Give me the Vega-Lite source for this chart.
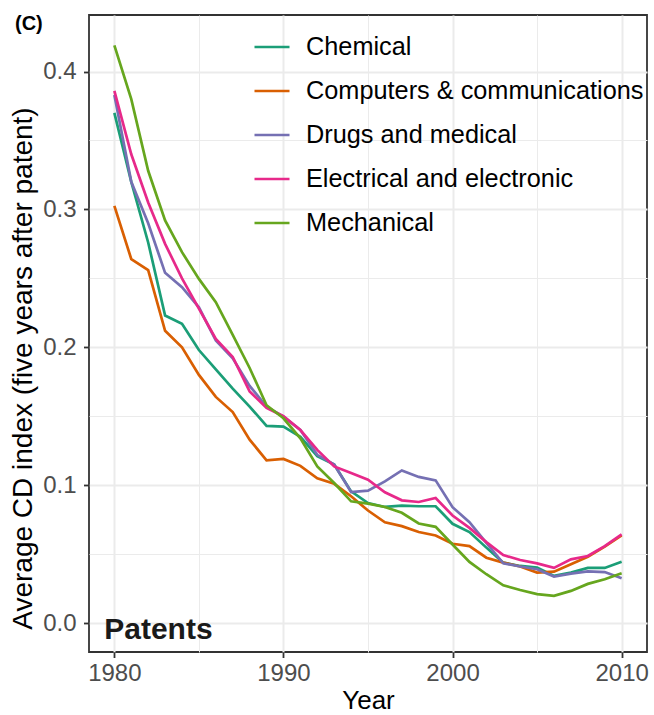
{
  "$schema": "https://vega.github.io/schema/vega-lite/v6.json",
  "width": 558,
  "height": 637,
  "autosize": "none",
  "padding": {"left": 89, "top": 15, "right": 7, "bottom": 63},
  "background": "white",
  "config": {
    "view": {"stroke": "#333333", "strokeWidth": 1.8},
    "font": "Liberation Sans",
    "axis": {
      "domain": false,
      "gridColor": "#ebebeb",
      "tickColor": "#333333",
      "tickWidth": 1.8,
      "labelColor": "#4d4d4d",
      "labelFont": "Liberation Sans",
      "labelFontSize": 24,
      "titleFont": "Liberation Sans",
      "titleFontSize": 26,
      "titleFontWeight": "normal",
      "titleColor": "black"
    }
  },
  "title": {
    "text": "(C)",
    "anchor": "start",
    "frame": "group",
    "font": "Liberation Sans",
    "fontSize": 20,
    "fontWeight": "bold",
    "color": "black",
    "baseline": "alphabetic",
    "offset": 0,
    "dx": -74,
    "dy": 35
  },
  "layer": [
    {
      "data": {"values": [{"label": "Patents"}]},
      "mark": {"type": "text", "align": "left", "baseline": "alphabetic", "fontSize": 30, "fontWeight": "bold", "font": "Liberation Sans", "color": "#1a1a1a"},
      "encoding": {
        "text": {"field": "label"},
        "x": {"datum": 1979.4, "type": "quantitative", "scale": {"domain": [1978.5, 2011.5], "nice": false, "zero": false},
          "axis": {"orient": "top", "values": [1985, 1995, 2005], "grid": true, "gridWidth": 1, "labels": false, "ticks": false, "title": null}},
        "y": {"datum": -0.0116, "type": "quantitative", "scale": {"domain": [-0.021, 0.441], "nice": false, "zero": false},
          "axis": {"orient": "right", "values": [0.05, 0.15, 0.25, 0.35], "grid": true, "gridWidth": 1, "labels": false, "ticks": false, "title": null}}
      }
    },
    {
      "data": {"values": [
        {"year":1980,"field":"Chemical","cd":0.370},{"year":1981,"field":"Chemical","cd":0.320},{"year":1982,"field":"Chemical","cd":0.276},{"year":1983,"field":"Chemical","cd":0.223},{"year":1984,"field":"Chemical","cd":0.217},{"year":1985,"field":"Chemical","cd":0.198},{"year":1986,"field":"Chemical","cd":0.184},{"year":1987,"field":"Chemical","cd":0.170},{"year":1988,"field":"Chemical","cd":0.157},{"year":1989,"field":"Chemical","cd":0.143},{"year":1990,"field":"Chemical","cd":0.1425},{"year":1991,"field":"Chemical","cd":0.135},{"year":1992,"field":"Chemical","cd":0.121},{"year":1993,"field":"Chemical","cd":0.115},{"year":1994,"field":"Chemical","cd":0.0955},{"year":1995,"field":"Chemical","cd":0.087},{"year":1996,"field":"Chemical","cd":0.0842},{"year":1997,"field":"Chemical","cd":0.0852},{"year":1998,"field":"Chemical","cd":0.0847},{"year":1999,"field":"Chemical","cd":0.0847},{"year":2000,"field":"Chemical","cd":0.072},{"year":2001,"field":"Chemical","cd":0.066},{"year":2002,"field":"Chemical","cd":0.0547},{"year":2003,"field":"Chemical","cd":0.0438},{"year":2004,"field":"Chemical","cd":0.0414},{"year":2005,"field":"Chemical","cd":0.0402},{"year":2006,"field":"Chemical","cd":0.0342},{"year":2007,"field":"Chemical","cd":0.0366},{"year":2008,"field":"Chemical","cd":0.040},{"year":2009,"field":"Chemical","cd":0.040},{"year":2010,"field":"Chemical","cd":0.0445},
        {"year":1980,"field":"Computers & communications","cd":0.3025},{"year":1981,"field":"Computers & communications","cd":0.264},{"year":1982,"field":"Computers & communications","cd":0.256},{"year":1983,"field":"Computers & communications","cd":0.212},{"year":1984,"field":"Computers & communications","cd":0.200},{"year":1985,"field":"Computers & communications","cd":0.180},{"year":1986,"field":"Computers & communications","cd":0.164},{"year":1987,"field":"Computers & communications","cd":0.153},{"year":1988,"field":"Computers & communications","cd":0.133},{"year":1989,"field":"Computers & communications","cd":0.118},{"year":1990,"field":"Computers & communications","cd":0.119},{"year":1991,"field":"Computers & communications","cd":0.114},{"year":1992,"field":"Computers & communications","cd":0.105},{"year":1993,"field":"Computers & communications","cd":0.101},{"year":1994,"field":"Computers & communications","cd":0.092},{"year":1995,"field":"Computers & communications","cd":0.0816},{"year":1996,"field":"Computers & communications","cd":0.0731},{"year":1997,"field":"Computers & communications","cd":0.0703},{"year":1998,"field":"Computers & communications","cd":0.066},{"year":1999,"field":"Computers & communications","cd":0.0635},{"year":2000,"field":"Computers & communications","cd":0.0575},{"year":2001,"field":"Computers & communications","cd":0.0558},{"year":2002,"field":"Computers & communications","cd":0.0474},{"year":2003,"field":"Computers & communications","cd":0.0438},{"year":2004,"field":"Computers & communications","cd":0.041},{"year":2005,"field":"Computers & communications","cd":0.0366},{"year":2006,"field":"Computers & communications","cd":0.0373},{"year":2007,"field":"Computers & communications","cd":0.0426},{"year":2008,"field":"Computers & communications","cd":0.0481},{"year":2009,"field":"Computers & communications","cd":0.0554},{"year":2010,"field":"Computers & communications","cd":0.0635},
        {"year":1980,"field":"Drugs and medical","cd":0.383},{"year":1981,"field":"Drugs and medical","cd":0.320},{"year":1982,"field":"Drugs and medical","cd":0.290},{"year":1983,"field":"Drugs and medical","cd":0.254},{"year":1984,"field":"Drugs and medical","cd":0.2436},{"year":1985,"field":"Drugs and medical","cd":0.229},{"year":1986,"field":"Drugs and medical","cd":0.205},{"year":1987,"field":"Drugs and medical","cd":0.192},{"year":1988,"field":"Drugs and medical","cd":0.172},{"year":1989,"field":"Drugs and medical","cd":0.157},{"year":1990,"field":"Drugs and medical","cd":0.1497},{"year":1991,"field":"Drugs and medical","cd":0.140},{"year":1992,"field":"Drugs and medical","cd":0.122},{"year":1993,"field":"Drugs and medical","cd":0.115},{"year":1994,"field":"Drugs and medical","cd":0.095},{"year":1995,"field":"Drugs and medical","cd":0.096},{"year":1996,"field":"Drugs and medical","cd":0.1028},{"year":1997,"field":"Drugs and medical","cd":0.1107},{"year":1998,"field":"Drugs and medical","cd":0.106},{"year":1999,"field":"Drugs and medical","cd":0.1035},{"year":2000,"field":"Drugs and medical","cd":0.084},{"year":2001,"field":"Drugs and medical","cd":0.0731},{"year":2002,"field":"Drugs and medical","cd":0.0582},{"year":2003,"field":"Drugs and medical","cd":0.0433},{"year":2004,"field":"Drugs and medical","cd":0.041},{"year":2005,"field":"Drugs and medical","cd":0.039},{"year":2006,"field":"Drugs and medical","cd":0.0337},{"year":2007,"field":"Drugs and medical","cd":0.0359},{"year":2008,"field":"Drugs and medical","cd":0.0375},{"year":2009,"field":"Drugs and medical","cd":0.037},{"year":2010,"field":"Drugs and medical","cd":0.0325},
        {"year":1980,"field":"Electrical and electronic","cd":0.386},{"year":1981,"field":"Electrical and electronic","cd":0.340},{"year":1982,"field":"Electrical and electronic","cd":0.305},{"year":1983,"field":"Electrical and electronic","cd":0.275},{"year":1984,"field":"Electrical and electronic","cd":0.250},{"year":1985,"field":"Electrical and electronic","cd":0.228},{"year":1986,"field":"Electrical and electronic","cd":0.206},{"year":1987,"field":"Electrical and electronic","cd":0.193},{"year":1988,"field":"Electrical and electronic","cd":0.168},{"year":1989,"field":"Electrical and electronic","cd":0.156},{"year":1990,"field":"Electrical and electronic","cd":0.150},{"year":1991,"field":"Electrical and electronic","cd":0.140},{"year":1992,"field":"Electrical and electronic","cd":0.1256},{"year":1993,"field":"Electrical and electronic","cd":0.1136},{"year":1994,"field":"Electrical and electronic","cd":0.1088},{"year":1995,"field":"Electrical and electronic","cd":0.104},{"year":1996,"field":"Electrical and electronic","cd":0.0948},{"year":1997,"field":"Electrical and electronic","cd":0.089},{"year":1998,"field":"Electrical and electronic","cd":0.0878},{"year":1999,"field":"Electrical and electronic","cd":0.0907},{"year":2000,"field":"Electrical and electronic","cd":0.078},{"year":2001,"field":"Electrical and electronic","cd":0.069},{"year":2002,"field":"Electrical and electronic","cd":0.0587},{"year":2003,"field":"Electrical and electronic","cd":0.0493},{"year":2004,"field":"Electrical and electronic","cd":0.0457},{"year":2005,"field":"Electrical and electronic","cd":0.0433},{"year":2006,"field":"Electrical and electronic","cd":0.040},{"year":2007,"field":"Electrical and electronic","cd":0.0462},{"year":2008,"field":"Electrical and electronic","cd":0.0486},{"year":2009,"field":"Electrical and electronic","cd":0.0558},{"year":2010,"field":"Electrical and electronic","cd":0.0643},
        {"year":1980,"field":"Mechanical","cd":0.419},{"year":1981,"field":"Mechanical","cd":0.380},{"year":1982,"field":"Mechanical","cd":0.328},{"year":1983,"field":"Mechanical","cd":0.292},{"year":1984,"field":"Mechanical","cd":0.269},{"year":1985,"field":"Mechanical","cd":0.2496},{"year":1986,"field":"Mechanical","cd":0.2327},{"year":1987,"field":"Mechanical","cd":0.209},{"year":1988,"field":"Mechanical","cd":0.185},{"year":1989,"field":"Mechanical","cd":0.158},{"year":1990,"field":"Mechanical","cd":0.1485},{"year":1991,"field":"Mechanical","cd":0.134},{"year":1992,"field":"Mechanical","cd":0.1136},{"year":1993,"field":"Mechanical","cd":0.1016},{"year":1994,"field":"Mechanical","cd":0.0883},{"year":1995,"field":"Mechanical","cd":0.0866},{"year":1996,"field":"Mechanical","cd":0.0842},{"year":1997,"field":"Mechanical","cd":0.080},{"year":1998,"field":"Mechanical","cd":0.0722},{"year":1999,"field":"Mechanical","cd":0.0698},{"year":2000,"field":"Mechanical","cd":0.057},{"year":2001,"field":"Mechanical","cd":0.0443},{"year":2002,"field":"Mechanical","cd":0.0354},{"year":2003,"field":"Mechanical","cd":0.0274},{"year":2004,"field":"Mechanical","cd":0.024},{"year":2005,"field":"Mechanical","cd":0.021},{"year":2006,"field":"Mechanical","cd":0.0197},{"year":2007,"field":"Mechanical","cd":0.0233},{"year":2008,"field":"Mechanical","cd":0.0284},{"year":2009,"field":"Mechanical","cd":0.0318},{"year":2010,"field":"Mechanical","cd":0.0361}
      ]},
      "mark": {"type": "line", "strokeWidth": 2.7},
      "encoding": {
        "x": {"field": "year", "type": "quantitative", "scale": {"domain": [1978.5, 2011.5], "nice": false, "zero": false},
          "axis": {"orient": "bottom", "values": [1980, 1990, 2000, 2010], "format": "d", "grid": true, "gridWidth": 2, "tickSize": 5.5, "labelPadding": 4, "title": "Year", "titlePadding": 2}},
        "y": {"field": "cd", "type": "quantitative", "scale": {"domain": [-0.021, 0.441], "nice": false, "zero": false},
          "axis": {"orient": "left", "values": [0, 0.1, 0.2, 0.3, 0.4], "format": ".1f", "grid": true, "gridWidth": 2, "tickSize": 5.5, "labelPadding": 7.5, "title": "Average CD index (five years after patent)", "titleFontSize": 28, "titleX": -58, "titleY": 353, "titleBaseline": "alphabetic", "titleAlign": "center", "titleAngle": -90}},
        "color": {"field": "field", "type": "nominal",
          "scale": {"domain": ["Chemical", "Computers & communications", "Drugs and medical", "Electrical and electronic", "Mechanical"],
                    "range": ["#1B9E77", "#D95F02", "#7570B3", "#E7298A", "#66A61E"]},
          "legend": {"title": null, "orient": "none", "legendX": 164, "legendY": 13, "padding": 0,
                     "symbolType": "stroke", "symbolSize": 1225, "symbolStrokeWidth": 2.6,
                     "labelFont": "Liberation Sans", "labelFontSize": 25.3, "labelLimit": 0, "labelColor": "black", "labelOffset": 15, "rowPadding": 11}}
      }
    }
  ],
  "resolve": {"axis": {"x": "independent", "y": "independent"}}
}
